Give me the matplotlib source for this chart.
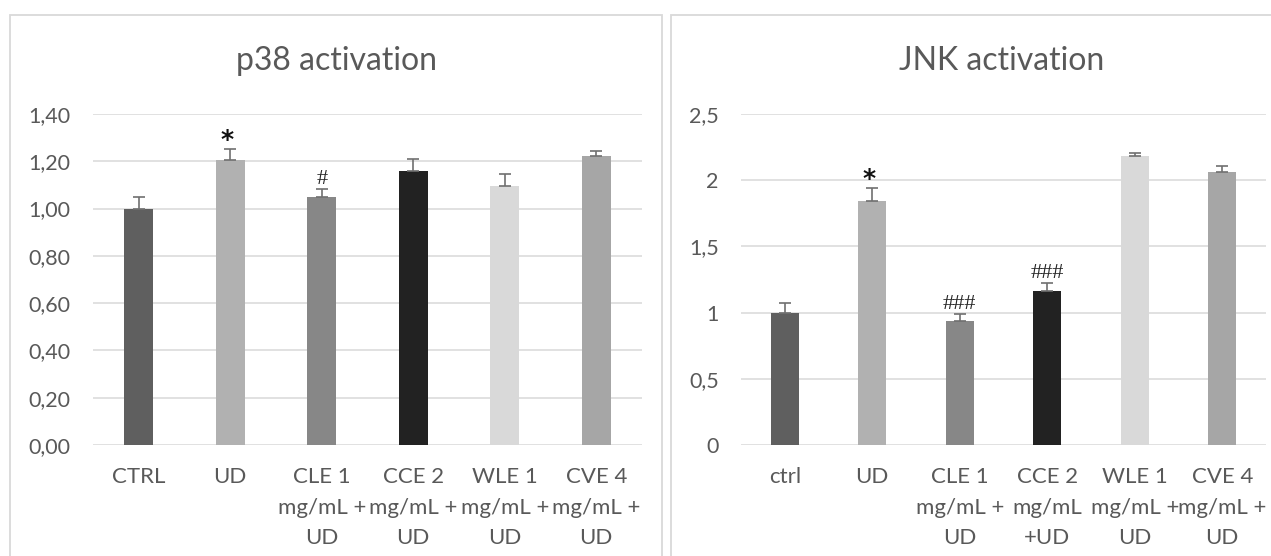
import matplotlib
matplotlib.use("Agg")
import matplotlib.pyplot as plt
from matplotlib.patches import Rectangle

# ---- data ----
p38_categories = ["CTRL", "UD", "CLE 1\nmg/mL +\nUD", "CCE 2\nmg/mL +\nUD",
                  "WLE 1\nmg/mL +\nUD", "CVE 4\nmg/mL +\nUD"]
p38_values = [1.00, 1.205, 1.048, 1.159, 1.096, 1.222]
p38_errors = [0.050, 0.045, 0.034, 0.052, 0.050, 0.022]
p38_marks = ["", "*", "#", "", "", ""]
p38_ticks = [0.0, 0.2, 0.4, 0.6, 0.8, 1.0, 1.2, 1.4]
p38_ticklabels = ["0,00", "0,20", "0,40", "0,60", "0,80", "1,00", "1,20", "1,40"]

jnk_categories = ["ctrl", "UD", "CLE 1\nmg/mL +\nUD", "CCE 2\nmg/mL\n+UD",
                  "WLE 1\nmg/mL +\nUD", "CVE 4\nmg/mL +\nUD"]
jnk_values = [1.00, 1.843, 0.936, 1.163, 2.183, 2.060]
jnk_errors = [0.070, 0.100, 0.055, 0.063, 0.025, 0.050]
jnk_marks = ["", "*", "###", "###", "", ""]
jnk_ticks = [0.0, 0.5, 1.0, 1.5, 2.0, 2.5]
jnk_ticklabels = ["0", "0,5", "1", "1,5", "2", "2,5"]

bar_colors = ["#5f5f5f", "#b1b1b1", "#878787", "#222222", "#d9d9d9", "#a6a6a6"]

TEXT = "#595959"
GRID = "#d9d9d9"
W, H = 1271, 556

plt.rcParams["font.family"] = ["Lato", "DejaVu Sans"]

fig = plt.figure(figsize=(W / 100, H / 100), dpi=100)


def px_box(x0, x1, ytop, ybot):
    return [x0 / W, 1 - ybot / H, (x1 - x0) / W, (ybot - ytop) / H]


def draw_panel(ax, title, cats, vals, errs, marks, ticks, ticklabels, ymax, title_x):
    x = list(range(len(cats)))
    ax.bar(x, vals, width=0.32, color=bar_colors, zorder=3)
    ax.errorbar(x, vals, yerr=[[0] * len(errs), errs], fmt="none",
                ecolor="#707070", elinewidth=1.2, capsize=4.3, capthick=1.2, zorder=4)
    for xi, v, e, m in zip(x, vals, errs, marks):
        if not m:
            continue
        if m == "*":
            ax.annotate(m, (xi, v + e), xytext=(-2.5, 1.5), textcoords="offset points",
                        ha="center", va="baseline", fontsize=18, fontweight="bold",
                        color="#111111", family=["DejaVu Sans"])
        else:
            ax.annotate(m, (xi, v + e), xytext=(0, 3.5), textcoords="offset points",
                        ha="center", va="baseline", fontsize=16,
                        color="#262626", family=["Liberation Serif"])
    ax.set_xlim(-0.5, len(cats) - 0.5)
    ax.set_ylim(0, ymax)
    ax.set_yticks(ticks)
    ax.set_yticklabels(ticklabels)
    ax.set_xticks(x)
    ax.set_xticklabels(cats, linespacing=1.65)
    ax.yaxis.grid(True, color=GRID, linewidth=1.1, zorder=0)
    ax.set_axisbelow(True)
    for s in ax.spines.values():
        s.set_visible(False)
    ax.tick_params(axis="y", length=0, pad=16, labelsize=15.5, labelcolor=TEXT)
    ax.tick_params(axis="x", length=0, pad=16, labelsize=16, labelcolor=TEXT)
    fig.text(title_x / W, 1 - 61 / H, title, ha="center", va="center",
             fontsize=23, color=TEXT)


ax1 = fig.add_axes(px_box(93, 642, 114, 445))
draw_panel(ax1, "p38 activation", p38_categories, p38_values, p38_errors,
           p38_marks, p38_ticks, p38_ticklabels, 1.4, 336)

ax2 = fig.add_axes(px_box(741, 1266, 114, 445))
draw_panel(ax2, "JNK activation", jnk_categories, jnk_values, jnk_errors,
           jnk_marks, jnk_ticks, jnk_ticklabels, 2.5, 1002)

# chart frames
for x0, x1 in [(10, 662), (671, 1300)]:
    fig.patches.append(Rectangle((x0 / W, -0.1), (x1 - x0) / W, (H * 1.1 - 15) / H,
                                 transform=fig.transFigure, fill=False,
                                 edgecolor=GRID, linewidth=1.3, clip_on=False))

fig.savefig("out.png", dpi=100)
